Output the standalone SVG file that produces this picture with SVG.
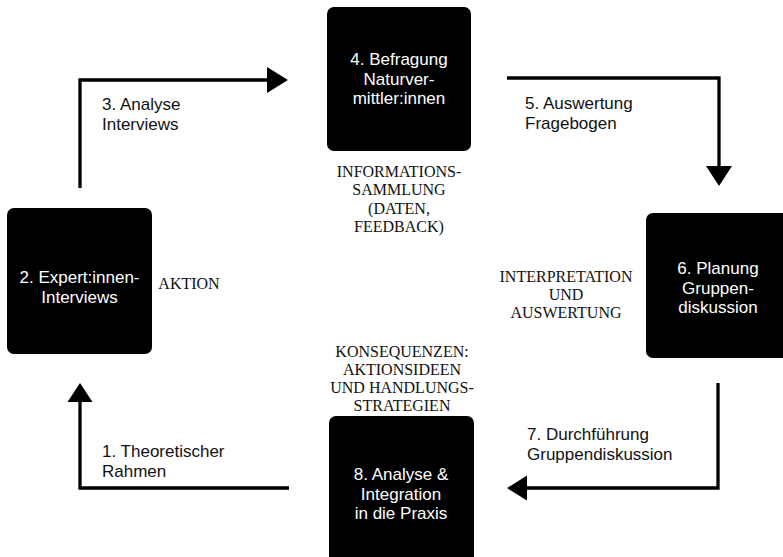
<svg xmlns="http://www.w3.org/2000/svg" width="783" height="557" viewBox="0 0 783 557">
<defs>
<style>
.box{fill:#000;}
.nt{font-family:"Liberation Sans",Arial,sans-serif;font-size:17px;fill:#fff;text-anchor:middle;}
.lt{font-family:"Liberation Sans",Arial,sans-serif;font-size:17px;fill:#111;}
.st{font-family:"Liberation Serif","DejaVu Serif",serif;font-size:16px;fill:#111;text-anchor:middle;}
.ln{fill:none;stroke:#000;stroke-width:3.3;stroke-linejoin:miter;}
.ah{fill:#000;}
</style>
</defs>
<rect width="783" height="557" fill="#fff"/>
<g id="connectors">
<path class="ln" d="M80,188 V80 H270"/>
<polygon class="ah" points="288,80 267,67 267,93"/>
<path class="ln" d="M507,78 H719 V168"/>
<polygon class="ah" points="719,186 706,166 732,166"/>
<path class="ln" d="M718,383 V488 H525"/>
<polygon class="ah" points="507,488 527,475.5 527,500.5"/>
<path class="ln" d="M289,488 H80 V400"/>
<polygon class="ah" points="80,383 67.5,402 92.5,402"/>
</g>
<g id="labels">
<text class="lt" x="102" y="110">3. Analyse<tspan x="102" dy="19.5">Interviews</tspan></text>
<text class="lt" x="525" y="109">5. Auswertung<tspan x="525" dy="19.5">Fragebogen</tspan></text>
<text class="lt" x="527" y="440">7. Durchführung<tspan x="527" dy="19.5">Gruppendiskussion</tspan></text>
<text class="lt" x="102" y="457">1. Theoretischer<tspan x="102" dy="20">Rahmen</tspan></text>
<text class="st" x="399" y="177">INFORMATIONS-<tspan x="399" dy="18.3">SAMMLUNG</tspan><tspan x="399" dy="18.3">(DATEN,</tspan><tspan x="399" dy="18.3">FEEDBACK)</tspan></text>
<text class="st" x="189" y="289">AKTION</text>
<text class="st" x="566" y="282">INTERPRETATION<tspan x="566" dy="18">UND</tspan><tspan x="566" dy="18">AUSWERTUNG</tspan></text>
<text class="st" x="402" y="357">KONSEQUENZEN:<tspan x="402" dy="18">AKTIONSIDEEN</tspan><tspan x="402" dy="18">UND HANDLUNGS-</tspan><tspan x="402" dy="18">STRATEGIEN</tspan></text>
</g>
<g id="node2">
<rect class="box" x="7" y="208" width="145" height="146" rx="7"/>
<text class="nt" x="79.5" y="283">2. Expert:innen-<tspan x="79.5" dy="19.5">Interviews</tspan></text>
</g>
<g id="node4">
<rect class="box" x="327" y="7" width="144" height="144" rx="7"/>
<text class="nt" x="399" y="65">4. Befragung<tspan x="399" dy="19.5">Naturver-</tspan><tspan x="399" dy="19.5">mittler:innen</tspan></text>
</g>
<g id="node6">
<rect class="box" x="646" y="213" width="144" height="145" rx="7"/>
<text class="nt" x="718" y="274">6. Planung<tspan x="718" dy="19.5">Gruppen-</tspan><tspan x="718" dy="19.5">diskussion</tspan></text>
</g>
<g id="node8">
<rect class="box" x="329" y="416" width="145" height="150" rx="7"/>
<text class="nt" x="401" y="480">8. Analyse &amp;<tspan x="401" dy="19.5">Integration</tspan><tspan x="401" dy="19.5">in die Praxis</tspan></text>
</g>
</svg>
